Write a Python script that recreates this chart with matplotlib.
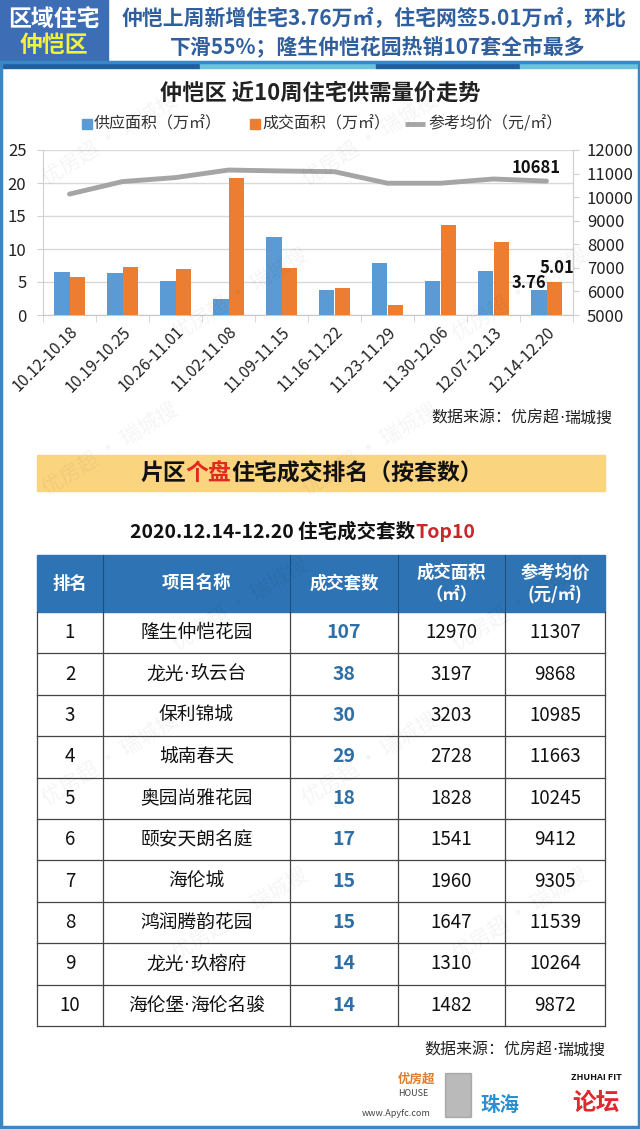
import numpy as np
import matplotlib
matplotlib.use("Agg")
import matplotlib.pyplot as plt
from matplotlib.patches import Rectangle

plt.rcParams['font.family'] = ['Noto Sans CJK SC', 'DejaVu Sans']

# ---------------- data ----------------
weeks = ["10.12-10.18", "10.19-10.25", "10.26-11.01", "11.02-11.08", "11.09-11.15",
         "11.16-11.22", "11.23-11.29", "11.30-12.06", "12.07-12.13", "12.14-12.20"]
supply = [6.5, 6.3, 5.1, 2.4, 11.8, 3.8, 7.9, 5.2, 6.7, 3.76]
deal = [5.8, 7.2, 6.9, 20.8, 7.1, 4.1, 1.5, 13.6, 11.0, 5.01]
price = [10130, 10660, 10830, 11150, 11110, 11080, 10590, 10590, 10770, 10681]

ranks = [1, 2, 3, 4, 5, 6, 7, 8, 9, 10]
names = ["隆生仲恺花园", "龙光·玖云台", "保利锦城", "城南春天", "奥园尚雅花园",
         "颐安天朗名庭", "海伦城", "鸿润腾韵花园", "龙光·玖榕府", "海伦堡·海伦名骏"]
units = [107, 38, 30, 29, 18, 17, 15, 15, 14, 14]
areas = [12970, 3197, 3203, 2728, 1828, 1541, 1960, 1647, 1310, 1482]
prices = [11307, 9868, 10985, 11663, 10245, 9412, 9305, 11539, 10264, 9872]
col_headers = ["排名", "项目名称", "成交套数", "成交面积\n（㎡）", "参考均价\n(元/㎡)"]
source = "数据来源：优房超·瑞城搜"

W, H = 640, 1129
BLUE = "#5b9bd5"
ORANGE = "#ed7d31"
GRAY = "#a5a5a5"
HEAD_BLUE = "#2f5f9f"

fig = plt.figure(figsize=(W / 100, H / 100), dpi=100)
fig.patch.set_facecolor("white")
renderer = fig.canvas.get_renderer()

# background / overlay axes in pixel coordinates
bg = fig.add_axes([0, 0, 1, 1], zorder=0)
bg.set_xlim(0, W)
bg.set_ylim(H, 0)
bg.axis("off")


def dot_text(x, y, s, ha="center", **kw):
    """Draw text where the middle dot '·' uses a narrow Latin glyph."""
    parts = s.split("·")
    pieces = []
    for i, p in enumerate(parts):
        if i > 0:
            pieces.append(("·", ["DejaVu Sans"]))
        if p:
            pieces.append((p, ['Noto Sans CJK SC', 'DejaVu Sans']))
    objs = [bg.text(0, y, p, family=f, ha="left", va="center", **kw) for p, f in pieces]
    widths = [o.get_window_extent(renderer).width for o in objs]
    total = sum(widths)
    start = {"center": x - total / 2, "left": x, "right": x - total}[ha]
    cur = start
    for o, w in zip(objs, widths):
        o.set_x(cur)
        cur += w
    return objs


# ---- header ----
bg.add_patch(Rectangle((0, 0), 108, 62, color="#3c6db5"))
bg.text(54, 19, "区域住宅", color="white", fontsize=16.5, fontweight="bold", ha="center", va="center")
bg.text(54, 46, "仲恺区", color="#f2f23a", fontsize=16.5, fontweight="bold", ha="center", va="center")
bg.text(374, 19, "仲恺上周新增住宅3.76万㎡，住宅网签5.01万㎡，环比", color=HEAD_BLUE,
        fontsize=15, fontweight="bold", ha="center", va="center")
bg.text(378, 46, "下滑55%；隆生仲恺花园热销107套全市最多", color=HEAD_BLUE,
        fontsize=15, fontweight="bold", ha="center", va="center")
for x0, x1, c in [(0, 200, "#1f5fa0"), (200, 376, "#6cc4dc"), (376, 520, "#1f5fa0"), (520, 640, "#6cc4dc")]:
    bg.add_patch(Rectangle((x0, 62), x1 - x0, 6, color=c))

# outer frame
bg.add_patch(Rectangle((1, 62), W - 2, H - 64, fill=False, edgecolor="#3a87c8", lw=2.5))

# ---- chart title and legend ----
bg.text(320, 93, "仲恺区 近10周住宅供需量价走势", fontsize=16, fontweight="bold", ha="center", va="center",
        color="#222222")
bg.add_patch(Rectangle((82, 119), 10, 10, color=BLUE))
bg.text(94, 124, "供应面积（万㎡）", fontsize=11.5, ha="left", va="center", color="#333333")
bg.add_patch(Rectangle((250, 119), 10, 10, color=ORANGE))
bg.text(262, 124, "成交面积（万㎡）", fontsize=11.5, ha="left", va="center", color="#333333")
bg.plot([405, 425], [124, 124], color=GRAY, lw=3.5, solid_capstyle="butt")
bg.text(428, 124, "参考均价（元/㎡）", fontsize=11.5, ha="left", va="center", color="#333333")

dot_text(612, 418, source, ha="right", fontsize=11.5, color="#222222")

# ---- section bar ----
bg.add_patch(Rectangle((37, 455), 568, 36, color="#fbd47f"))
t1 = bg.text(140, 473, "片区", fontsize=16.5, fontweight="bold", ha="left", va="center", color="#111111")
bg.annotate("个盘", xycoords=t1, xy=(1, 0.5), va="center", ha="left", fontsize=16.5,
            fontweight="bold", color="#e02a20")
bg.annotate("住宅成交排名（按套数）", xycoords=bg.texts[-1], xy=(1, 0.5), va="center", ha="left",
            fontsize=16.5, fontweight="bold", color="#111111")

t2 = bg.text(130, 532, "2020.12.14-12.20 住宅成交套数", fontsize=14, fontweight="bold", ha="left",
             va="center", color="#111111")
bg.annotate("Top10", xycoords=t2, xy=(1, 0.5), va="center", ha="left", fontsize=14,
            fontweight="bold", color="#c8282b")

# ---- table ----
col_x = [37, 103, 290, 398, 505, 605]
head_top, head_bot = 555, 612
row_h = 41.4
bg.add_patch(Rectangle((col_x[0], head_top), col_x[-1] - col_x[0], head_bot - head_top, color="#2e73b4"))
for i, hdr in enumerate(col_headers):
    cx = (col_x[i] + col_x[i + 1]) / 2
    bg.text(cx, (head_top + head_bot) / 2, hdr, color="white", fontsize=12.5, fontweight="bold",
            ha="center", va="center", linespacing=1.2)
for i in range(1, 5):
    bg.plot([col_x[i], col_x[i]], [head_top, head_bot], color="#1d4f80", lw=0.8)

for r in range(len(ranks)):
    y0 = head_bot + r * row_h
    cy = y0 + row_h / 2
    vals = [str(ranks[r]), names[r], str(units[r]), str(areas[r]), str(prices[r])]
    for i, v in enumerate(vals):
        cx = (col_x[i] + col_x[i + 1]) / 2
        if i == 2:
            bg.text(cx, cy, v, fontsize=14, fontweight="bold", color="#2e6fa8", ha="center", va="center")
        elif i == 1:
            dot_text(cx, cy, v, fontsize=13.5, color="#111111")
        else:
            bg.text(cx, cy, v, fontsize=13.5, color="#111111", ha="center", va="center")
    bg.plot([col_x[0], col_x[-1]], [y0 + row_h, y0 + row_h], color="#444444", lw=0.9)
tbl_bot = head_bot + len(ranks) * row_h
for xx in col_x:
    bg.plot([xx, xx], [head_bot, tbl_bot], color="#444444", lw=0.9)

dot_text(605, 1050, source, ha="right", fontsize=11.5, color="#222222")

# ---- footer logos (approximation) ----
bg.text(398, 1079, "优房超", fontsize=9, fontweight="bold", color="#e07a2a", ha="left", va="center")
bg.text(428, 1094, "HOUSE", fontsize=6.5, color="#444444", ha="right", va="center")
bg.text(396, 1113, "www.Apyfc.com", fontsize=6.5, color="#444444", ha="center", va="center")
bg.add_patch(Rectangle((445, 1073), 26, 44, color="#777777", alpha=0.5))
bg.text(500, 1105, "珠海", fontsize=14, color="#2a8fd0", ha="center", va="center", fontweight="bold")
bg.text(596, 1077, "ZHUHAI FIT", fontsize=6.5, fontweight="bold", color="#111111", ha="center", va="center")
bg.text(596, 1103, "论坛", fontsize=17, fontweight="bold", color="#e0282e", ha="center", va="center")

# ---- main chart ----
ax = fig.add_axes([43 / W, 1 - 315 / H, 530 / W, 165 / H], zorder=2)
ax.patch.set_alpha(0)
x = np.arange(len(weeks))
bw = 0.3
ax.bar(x - bw / 2, supply, bw, color=BLUE, zorder=3)
ax.bar(x + bw / 2, deal, bw, color=ORANGE, zorder=3)
ax.set_xlim(-0.5, len(weeks) - 0.5)
ax.set_ylim(0, 25)
ax.set_yticks(np.arange(0, 26, 5))
ax.grid(axis="y", color="#d9d9d9", lw=1, zorder=0)
ax.set_axisbelow(True)
ax.set_xticks(x)
ax.set_xticklabels(weeks, rotation=45, ha="right", rotation_mode="anchor", fontsize=11.5, color="#222222")
ax.tick_params(axis="x", length=0, pad=6)
ax.set_xticks(np.arange(-0.5, len(weeks), 1), minor=True)
ax.tick_params(axis="x", which="minor", length=5, color="#d0d0d0")
ax.tick_params(axis="y", labelsize=12, colors="#222222", length=4, color="#d0d0d0", pad=8)
ax.spines["top"].set_visible(False)
ax.spines["left"].set_color("#d0d0d0")
ax.spines["right"].set_color("#d0d0d0")
ax.spines["bottom"].set_color("#c8c8c8")

ax2 = ax.twinx()
ax2.plot(x, price, color=GRAY, lw=3.5, solid_capstyle="round", zorder=4)
ax2.set_ylim(5000, 12000)
ax2.set_yticks(np.arange(5000, 12001, 1000))
ax2.tick_params(axis="y", labelsize=12, colors="#222222", length=4, color="#d0d0d0", pad=6)
for s in ["top", "left", "bottom"]:
    ax2.spines[s].set_visible(False)
ax2.spines["right"].set_color("#d0d0d0")

ax2.annotate(f"{price[-1]}", (x[-1], price[-1]), xytext=(-10, 13), textcoords="offset pixels",
             ha="center", va="center", fontsize=12, fontweight="bold", color="#111111")
ax.annotate(f"{deal[-1]:.2f}", (x[-1] + bw / 2, deal[-1]), xytext=(2, 14), textcoords="offset pixels",
            ha="center", va="center", fontsize=12, fontweight="bold", color="#111111")
ax.annotate(f"{supply[-1]:.2f}", (x[-1] - bw / 2, supply[-1]), xytext=(-10, 7), textcoords="offset pixels",
            ha="center", va="center", fontsize=12, fontweight="bold", color="#111111")

# ---- watermark (kept fully inside the picture) ----
wm = fig.add_axes([0, 0, 1, 1], zorder=5)
wm.set_xlim(0, W)
wm.set_ylim(H, 0)
wm.axis("off")
wm.patch.set_alpha(0)
for j, yy in enumerate(np.arange(140, 1070, 155)):
    xs = [110, 370] if j % 2 == 0 else [240, 520]
    for xx in xs:
        wm.text(xx, yy, "优房超 · 瑞城搜", fontsize=15, color="#000000",
                alpha=0.045, rotation=32, ha="center", va="center")

fig.savefig("out.png", dpi=100, facecolor="white")
